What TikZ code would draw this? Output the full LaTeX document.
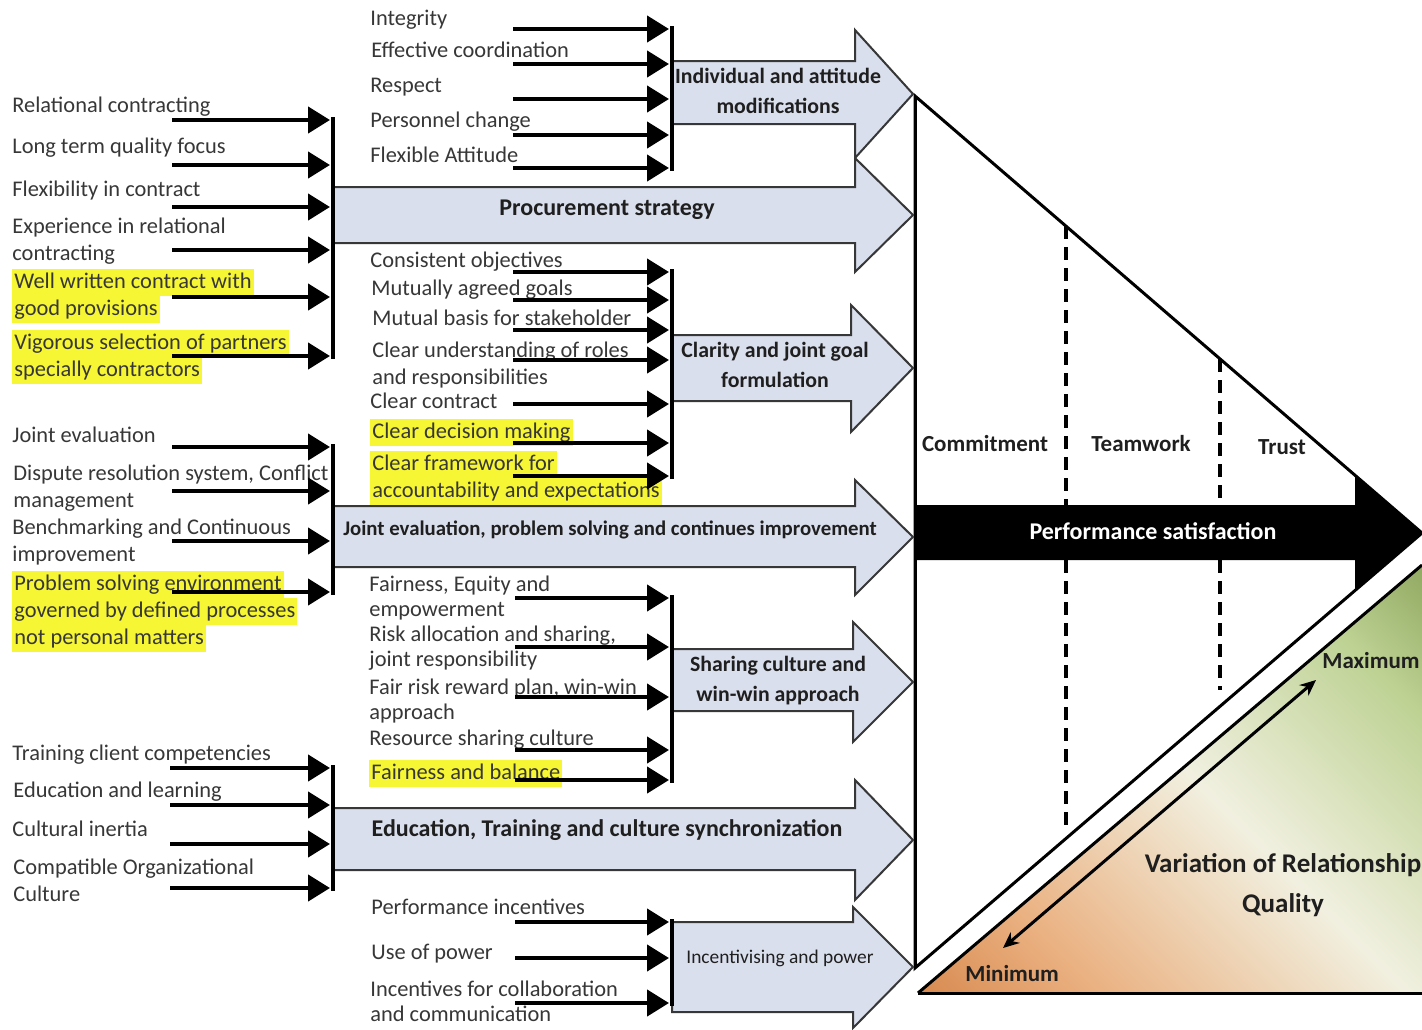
\documentclass[tikz,border=0pt]{standalone}
\usepackage{fontspec}
\setmainfont{Carlito}
\usetikzlibrary{arrows.meta}

\definecolor{barfill}{RGB}{218,223,237}
\definecolor{barline}{RGB}{55,55,55}
\definecolor{txt}{RGB}{55,55,55}
\definecolor{hlyellow}{RGB}{246,246,52}
\definecolor{rqA}{RGB}{196,98,28}
\definecolor{rqB}{RGB}{234,176,128}
\definecolor{rqC}{RGB}{241,240,224}
\definecolor{rqD}{RGB}{190,210,148}
\definecolor{rqE}{RGB}{88,118,34}

\pgfdeclarehorizontalshading{rq}{100bp}{color(0bp)=(rqA); color(28bp)=(rqB); color(52bp)=(rqC); color(74bp)=(rqD); color(100bp)=(rqE)}

% highlighted line of text
\newcommand\hlt[1]{{\setlength{\fboxsep}{0pt}\colorbox{hlyellow}{\strut\hspace{1pt}#1\hspace{1pt}}}}

% block arrow: x0, body top, body bottom, head x, head top, head bottom, tip x, tip y
\newcommand\blockarrow[8]{%
  \draw[blockarrow] (#1,#2) -- (#4,#2) -- (#4,#5) -- (#7,#8) -- (#4,#6) -- (#4,#3) -- (#1,#3) -- cycle;}

\tikzset{
  % factors are placed by the baseline of their last line
  factor/.style={anchor=base west, align=left, inner sep=0pt, text=txt,
    font=\fontsize{11.2}{13.5}\selectfont},
  feed/.style={line width=2.2pt, -{Triangle[length=11pt,width=13pt]}},
  collector/.style={line width=2pt},
  blockarrow/.style={fill=barfill, draw=barline, line width=1pt, line join=miter},
  blabel/.style={align=center, inner sep=0pt, text=black!88,
    font=\bfseries\fontsize{10.9}{15}\selectfont},
  bigblabel/.style={blabel, font=\bfseries\fontsize{12}{15}\selectfont},
  zone/.style={inner sep=0pt, text=black!88, font=\bfseries\fontsize{11.5}{14}\selectfont},
  divider/.style={line width=1.6pt, dash pattern=on 6.5pt off 4pt},
}

\begin{document}
\begin{tikzpicture}[x=0.5pt, y=-0.5pt]
\useasboundingbox[fill=white] (0,0) rectangle (1422,1029);

% ---------- relationship quality wedge ----------
\shade[shading=rq, shading angle=45] (918,993) -- (1422,993) -- (1422,565) -- cycle;
\draw[line width=1.5pt] (918,993) -- (1422,565);
\draw[line width=1.5pt] (918,993) -- (1422,993);

% ---------- outcome triangle ----------
\coordinate (T) at (915,96);
\coordinate (P) at (1422,533);
\coordinate (B) at (915,968);
\draw[fill=white, line width=1.5pt, line join=miter] (T) -- (P) -- (B) -- cycle;
\fill[black] (915,505) -- (1355,505) -- (1355,475.3) -- (P) -- (1355,590.5) -- (1355,560) -- (915,560) -- cycle;
\draw[line width=1.5pt] (T) -- (B);

\draw[divider] (1066,226) -- (1066,505);
\draw[divider] (1066,560) -- (1066,826);
\draw[divider] (1220,359) -- (1220,505);
\draw[divider] (1220,560) -- (1220,690);

\node[zone] (commit) at (985,444) {Commitment};
\node[zone] (team) at (1141,444) {Teamwork};
\node[zone] (trust) at (1282,447) {Trust};
\node[zone, text=white, font=\bfseries\fontsize{12}{14}\selectfont] (perf) at (1153,531) {Performance satisfaction};

\coordinate (qmin) at (1003,948);
\coordinate (qmax) at (1316,680);
\draw[line width=1.5pt, {Stealth[length=8pt,width=7pt]}-{Stealth[length=8pt,width=7pt]}] (qmax) -- (qmin);
\node[zone, anchor=west] (max) at (1322,660) {Maximum};
\node[zone, anchor=west] (min) at (965,973) {Minimum};
\node[zone, align=center, font=\bfseries\fontsize{13.5}{20}\selectfont] (var) at (1283,885) {Variation of Relationship\\Quality};

% ---------- block arrows ----------
\blockarrow{672}{61}{124}{855}{30}{158}{913}{94}
\blockarrow{333}{187}{243}{855}{158}{272}{913}{215}
\blockarrow{672}{335}{401}{851}{305}{432}{913}{368}
\blockarrow{333}{506}{567}{855}{480}{595}{913}{537}
\blockarrow{672}{649}{711}{853}{622}{742}{913}{682}
\blockarrow{333}{808}{870}{855}{780}{900}{913}{840}
\blockarrow{672}{922}{1012}{853}{907}{1028}{913}{967}

\node[blabel] (ind) at (778,91) {Individual and attitude\\modifications};
\node[bigblabel] (proc) at (607,210) {Procurement strategy};
\node[blabel] (clar) at (775,365) {Clarity and joint goal\\formulation};
\node[blabel, font=\bfseries\fontsize{10.4}{12}\selectfont] (joint) at (610,530) {Joint evaluation, problem solving and continues improvement};
\node[blabel] (share) at (778,681) {Sharing culture and\\win-win approach};
\node[bigblabel] (edu) at (607,830) {Education, Training and culture synchronization};
\node[blabel, font=\fontsize{9.7}{12}\selectfont] (inc) at (780,958) {Incentivising and power};

% ---------- left column factors ----------
\node[factor] (l1a) at (12,112) {Relational contracting};
\node[factor] (l1b) at (12,153) {Long term quality focus};
\node[factor] (l1c) at (12,196) {Flexibility in contract};
\node[factor] (l1d) at (12,260) {Experience in relational\\contracting};
\node[factor] (l1e) at (12,315) {\hlt{Well written contract with}\\\hlt{good provisions}};
\node[factor] (l1f) at (12,376) {\hlt{Vigorous selection of partners}\\\hlt{specially contractors}};

\node[factor] (l2a) at (12,442) {Joint evaluation};
\node[factor] (l2b) at (13,507) {Dispute resolution system, Conflict\\management};
\node[factor] (l2c) at (12,561) {Benchmarking and Continuous\\improvement};
\node[factor] (l2d) at (12,644) {\hlt{Problem solving environment}\\\hlt{governed by defined processes}\\\hlt{not personal matters}};

\node[factor] (l3a) at (12,760) {Training client competencies};
\node[factor] (l3b) at (13,797) {Education and learning};
\node[factor] (l3c) at (12,836) {Cultural inertia};
\node[factor] (l3d) at (13,901) {Compatible Organizational\\Culture};

% ---------- middle column factors ----------
\node[factor] (m1a) at (370,25) {Integrity};
\node[factor] (m1b) at (371,57) {Effective coordination};
\node[factor] (m1c) at (370,92) {Respect};
\node[factor] (m1d) at (370,127) {Personnel change};
\node[factor] (m1e) at (370,162) {Flexible Attitude};

\node[factor] (m2a) at (370,267) {Consistent objectives};
\node[factor] (m2b) at (371,295) {Mutually agreed goals};
\node[factor] (m2c) at (372,325) {Mutual basis for stakeholder};
\node[factor] (m2d) at (372,384) {Clear understanding of roles\\and responsibilities};
\node[factor] (m2e) at (370,408) {Clear contract};
\node[factor] (m2f) at (370,438) {\hlt{Clear decision making}};
\node[factor] (m2g) at (370,497) {\hlt{Clear framework for}\\\hlt{accountability and expectations}};

\node[factor, font=\fontsize{11.2}{12.5}\selectfont] (m3a) at (369,616) {Fairness, Equity and\\empowerment};
\node[factor, font=\fontsize{11.2}{12.5}\selectfont] (m3b) at (369,666) {Risk allocation and sharing,\\joint responsibility};
\node[factor, font=\fontsize{11.2}{12.5}\selectfont] (m3c) at (369,719) {Fair risk reward plan, win-win\\approach};
\node[factor] (m3d) at (369,745) {Resource sharing culture};
\node[factor] (m3e) at (369,779) {\hlt{Fairness and balance}};

\node[factor] (m4a) at (371,914) {Performance incentives};
\node[factor] (m4b) at (371,959) {Use of power};
\node[factor, font=\fontsize{11.2}{12.5}\selectfont] (m4c) at (370,1021) {Incentives for collaboration\\and communication};

% ---------- feeder arrows and collector bars ----------
\foreach \y [count=\i] in {120,165,207,250,297,356}
  \draw[feed] (172,\y) coordinate (fa\i) -- (330,\y) coordinate (ta\i);
\draw[collector] (333,117) -- (333,359);

\foreach \y [count=\i] in {447,491,541,592}
  \draw[feed] (172,\y) coordinate (fb\i) -- (330,\y) coordinate (tb\i);
\draw[collector] (333,444) -- (333,595);

\foreach \y [count=\i] in {768,805,844,888}
  \draw[feed] (170,\y) coordinate (fc\i) -- (330,\y) coordinate (tc\i);
\draw[collector] (333,765) -- (333,891);

\foreach \y [count=\i] in {29,64,99,135,168}
  \draw[feed] (513,\y) coordinate (fd\i) -- (669,\y) coordinate (td\i);
\draw[collector] (672,26) -- (672,171);

\foreach \y [count=\i] in {272,300,330,360,404,443,476}
  \draw[feed] (513,\y) coordinate (fe\i) -- (669,\y) coordinate (te\i);
\draw[collector] (672,269) -- (672,479);

\foreach \y [count=\i] in {598,647,697,750,780}
  \draw[feed] (515,\y) coordinate (ff\i) -- (669,\y) coordinate (tf\i);
\draw[collector] (672,595) -- (672,783);

\foreach \y [count=\i] in {922,958,1003}
  \draw[feed] (515,\y) coordinate (fg\i) -- (669,\y) coordinate (tg\i);
\draw[collector] (672,919) -- (672,1006);
\end{tikzpicture}
\end{document}
